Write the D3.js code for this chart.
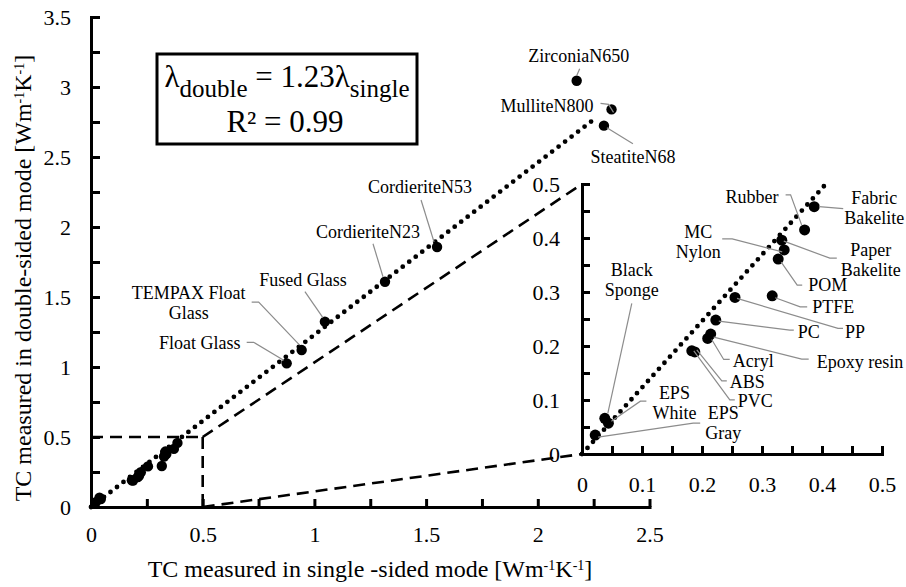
<!DOCTYPE html>
<html>
<head>
<meta charset="utf-8">
<script src="https://cdnjs.cloudflare.com/ajax/libs/d3/7.8.5/d3.min.js"></script>
<style>
  body { margin: 0; background: #fff; }
  svg { font-family: "Liberation Serif", "Times New Roman", serif; }
  .axis path, .axis line { stroke: #000; stroke-width: 3px; }
  .axis text { font-size: 22px; font-family: "Liberation Serif", serif; fill: #000; }
  .lead { fill: none; stroke: #8c8c8c; stroke-width: 1.2px; }
  .lbl { font-size: 18px; fill: #000; }
</style>
</head>
<body>
<svg id="chart" width="906" height="587"></svg>
<script>
// high-TC materials (labelled in the big panel)
const bigNames = ["ZirconiaN650", "MulliteN800", "SteatiteN68", "CordieriteN53", "CordieriteN23",
                  "Fused Glass", "TEMPAX Float Glass", "Float Glass"];
const bigSingle = [2.174, 2.33, 2.296, 1.549, 1.316, 1.047, 0.943, 0.876];
const bigDouble = [3.045, 2.84, 2.724, 1.857, 1.609, 1.324, 1.121, 1.026];

// low-TC materials (labelled in the inset)
const smallNames = ["Fabric Bakelite", "Rubber", "Paper Bakelite", "MC Nylon", "POM", "PTFE", "PP", "PC",
                    "Epoxy resin", "Acryl", "ABS", "PVC", "EPS White", "EPS Gray", "Black Sponge"];
const smallSingle = [0.387, 0.371, 0.333, 0.337, 0.327, 0.317, 0.255, 0.223, 0.2145, 0.2095, 0.183, 0.188, 0.044, 0.022, 0.038];
const smallDouble = [0.458, 0.415, 0.396, 0.378, 0.361, 0.293, 0.290, 0.248, 0.222, 0.214, 0.191, 0.189, 0.057, 0.035, 0.066];

// fit: lambda_double = 1.23 lambda_single
const slope = 1.23;
const fitEndMain = 2.265;
const fitEndInset = 0.405;

const mainXTicks = [0, 0.25, 0.5, 0.75, 1, 1.25, 1.5, 1.75, 2, 2.25, 2.5];
const mainYTicks = [0, 0.25, 0.5, 0.75, 1, 1.25, 1.5, 1.75, 2, 2.25, 2.5, 2.75, 3, 3.25, 3.5];
const insetTicks = [0, 0.05, 0.1, 0.15, 0.2, 0.25, 0.3, 0.35, 0.4, 0.45, 0.5];
const zoomBox = 0.5;

// label placement, offsets in px from the marker
const bigNotes = [
  { lines: ["ZirconiaN650"], anchor: "middle", tx: 2, ty: -19, lead: [[3, -12], [0, -5]] },
  { lines: ["MulliteN800"], anchor: "end", tx: -18, ty: 3, lead: [[-11, -6], [-3, -5], [2, 3]] },
  { lines: ["SteatiteN68"], anchor: "middle", tx: 29, ty: 37, lead: [[29, 18], [3, 2]] },
  { lines: ["CordieriteN53"], anchor: "middle", tx: -17, ty: -54, lead: [[-16, -47], [-3, -5]] },
  { lines: ["CordieriteN23"], anchor: "middle", tx: -17, ty: -44, lead: [[-12, -38], [-2, -5]] },
  { lines: ["Fused Glass"], anchor: "middle", tx: -22, ty: -36, lead: [[-20, -30], [-2, -4]] },
  { lines: ["TEMPAX Float", "Glass"], anchor: "middle", tx: -113, ty: -51, lead: [[-50, -48], [-43, -48], [-2, -5]] },
  { lines: ["Float Glass"], anchor: "middle", tx: -87, ty: -14, lead: [[-40, -21], [-33, -21], [-3, -3]] }
];
const smallNotes = [
  { lines: ["Fabric", "Bakelite"], anchor: "middle", tx: 60, ty: -3, lead: [[29, 2], [5, 0]] },
  { lines: ["Rubber"], anchor: "end", tx: -26, ty: -27, lead: [[-19, -35], [-14, -35], [-3, -5]] },
  { lines: ["Paper", "Bakelite"], anchor: "middle", tx: 89, ty: 16, lead: [[55, 18], [48, 18], [2, 1]] },
  { lines: ["MC", "Nylon"], anchor: "middle", tx: -86, ty: -12, lead: [[-62, -11], [-52, -11], [-2, 2]] },
  { lines: ["POM"], anchor: "start", tx: 30, ty: 32, lead: [[24, 26], [19, 26], [3, 3]] },
  { lines: ["PTFE"], anchor: "start", tx: 40, ty: 17, lead: [[35, 11], [28, 11], [3, 2]] },
  { lines: ["PP"], anchor: "start", tx: 110, ty: 41, lead: [[108, 31], [103, 31], [2, 1]] },
  { lines: ["PC"], anchor: "start", tx: 82, ty: 18, lead: [[78, 10], [74, 10], [3, 1]] },
  { lines: ["Epoxy resin"], anchor: "start", tx: 106, ty: 34, lead: [[98, 25], [91, 25], [3, 3]] },
  { lines: ["Acryl"], anchor: "start", tx: 25, ty: 29, lead: [[22, 21], [16, 21], [4, 1]] },
  { lines: ["ABS"], anchor: "start", tx: 38, ty: 37, lead: [[35, 30], [30, 30], [5, -1]] },
  { lines: ["PVC"], anchor: "start", tx: 43, ty: 55, lead: [[40, 48], [35, 48], [-1, -1]] },
  { lines: ["EPS", "White"], anchor: "middle", tx: 66, ty: -24, lead: [[38, -22], [32, -22], [3, -2]] },
  { lines: ["EPS", "Gray"], anchor: "middle", tx: 128, ty: -16, lead: [[105, -12], [98, -12], [3, 2]] },
  { lines: ["Black", "Sponge"], anchor: "middle", tx: 27, ty: -142, lead: [[27, -115], [3, -5]] }
];

const svg = d3.select("#chart");

const x = d3.scaleLinear().domain([0, 2.5]).range([91, 649.5]);
const y = d3.scaleLinear().domain([0, 3.5]).range([507, 17]);
const xi = d3.scaleLinear().domain([0, 0.5]).range([582, 882]);
const yi = d3.scaleLinear().domain([0, 0.5]).range([454, 184]);

const bigData = bigNames.map((n, i) => ({ name: n, s: bigSingle[i], d: bigDouble[i], note: bigNotes[i] }));
const smallData = smallNames.map((n, i) => ({ name: n, s: smallSingle[i], d: smallDouble[i], note: smallNotes[i] }));
const allData = bigData.concat(smallData);

// zoom rectangle and connectors
const dash = { "stroke": "#000", "stroke-width": 2.6, "stroke-dasharray": "12,7", "fill": "none" };
function dashed(x1, y1, x2, y2) {
  const l = svg.append("line").attr("x1", x1).attr("y1", y1).attr("x2", x2).attr("y2", y2);
  Object.entries(dash).forEach(([k, v]) => l.attr(k, v));
}
dashed(x(0), y(zoomBox), x(zoomBox), y(zoomBox));
dashed(x(zoomBox), y(zoomBox), x(zoomBox), y(0));
dashed(x(zoomBox), y(zoomBox), xi(0), yi(zoomBox));
dashed(x(zoomBox), y(0), xi(0), yi(0));

// dotted fit lines
function fitLine(sx, sy, end) {
  svg.append("line")
    .attr("x1", sx(0)).attr("y1", sy(0))
    .attr("x2", sx(end)).attr("y2", sy(end * slope))
    .attr("stroke", "#000").attr("stroke-width", 4.8)
    .attr("stroke-linecap", "round").attr("stroke-dasharray", "0,8.2");
}
fitLine(x, y, fitEndMain);
fitLine(xi, yi, fitEndInset);

// axes
function major(v) { return Math.abs(v * 2 - Math.round(v * 2)) < 1e-6 ? d3.format("")(v) : ""; }
function majorInset(v) { return Math.abs(v * 10 - Math.round(v * 10)) < 1e-6 ? d3.format("")(+v.toFixed(2)) : ""; }

svg.append("g").attr("class", "axis")
  .attr("transform", `translate(0,${y(0)})`)
  .call(d3.axisBottom(x).tickValues(mainXTicks).tickFormat(major).tickSizeInner(-8).tickSizeOuter(0).tickPadding(19));
svg.append("g").attr("class", "axis")
  .attr("transform", `translate(${x(0)},0)`)
  .call(d3.axisLeft(y).tickValues(mainYTicks).tickFormat(major).tickSizeInner(-9).tickSizeOuter(0).tickPadding(20));

svg.append("g").attr("class", "axis")
  .attr("transform", `translate(0,${yi(0)})`)
  .call(d3.axisBottom(xi).tickValues(insetTicks).tickFormat(majorInset).tickSizeInner(-8).tickSizeOuter(0).tickPadding(22));
svg.append("g").attr("class", "axis")
  .attr("transform", `translate(${xi(0)},0)`)
  .call(d3.axisLeft(yi).tickValues(insetTicks).tickFormat(majorInset).tickSizeInner(-8).tickSizeOuter(0).tickPadding(22));

svg.selectAll(".axis .domain").attr("stroke-linecap", "square");

// markers
svg.append("g").selectAll("circle").data(allData).join("circle")
  .attr("cx", d => x(d.s)).attr("cy", d => y(d.d)).attr("r", 5.2).attr("fill", "#000");
svg.append("g").selectAll("circle").data(smallData).join("circle")
  .attr("cx", d => xi(d.s)).attr("cy", d => yi(d.d)).attr("r", 5.5).attr("fill", "#000");

// labels with leader lines
function annotate(data, sx, sy) {
  const g = svg.append("g");
  data.forEach(d => {
    const px = sx(d.s), py = sy(d.d);
    g.append("path").attr("class", "lead")
      .attr("d", d3.line()(d.note.lead.map(p => [px + p[0], py + p[1]])));
    const t = g.append("text").attr("class", "lbl")
      .attr("text-anchor", d.note.anchor)
      .attr("x", px + d.note.tx).attr("y", py + d.note.ty);
    d.note.lines.forEach((ln, k) => {
      t.append("tspan").attr("x", px + d.note.tx).attr("dy", k === 0 ? 0 : 20).text(ln);
    });
  });
}
annotate(bigData, x, y);
annotate(smallData, xi, yi);

// axis titles
function unitTitle(t, prefix) {
  t.append("tspan").text(prefix + "[Wm");
  t.append("tspan").attr("baseline-shift", "super").attr("font-size", "14px").text("-1");
  t.append("tspan").text("K");
  t.append("tspan").attr("baseline-shift", "super").attr("font-size", "14px").text("-1");
  t.append("tspan").text("]");
}
unitTitle(svg.append("text").attr("x", 370).attr("y", 577).attr("text-anchor", "middle")
  .attr("font-size", "24px"), "TC measured in single -sided mode ");
unitTitle(svg.append("text").attr("transform", "translate(31,278) rotate(-90)").attr("text-anchor", "middle")
  .attr("font-size", "24px"), "TC measured in double-sided mode ");

// equation box
svg.append("rect").attr("x", 157).attr("y", 54).attr("width", 260).attr("height", 90)
  .attr("fill", "#fff").attr("stroke", "#000").attr("stroke-width", 3);
const eq = svg.append("text").attr("x", 287).attr("y", 87).attr("text-anchor", "middle").attr("font-size", "31px");
eq.append("tspan").text("λ");
eq.append("tspan").attr("dy", 10).attr("font-size", "25px").text("double");
eq.append("tspan").attr("dy", -10).text(" = 1.23λ");
eq.append("tspan").attr("dy", 10).attr("font-size", "25px").text("single");
svg.append("text").attr("x", 285).attr("y", 132).attr("text-anchor", "middle").attr("font-size", "31px")
  .text("R² = 0.99");
</script>
</body>
</html>
